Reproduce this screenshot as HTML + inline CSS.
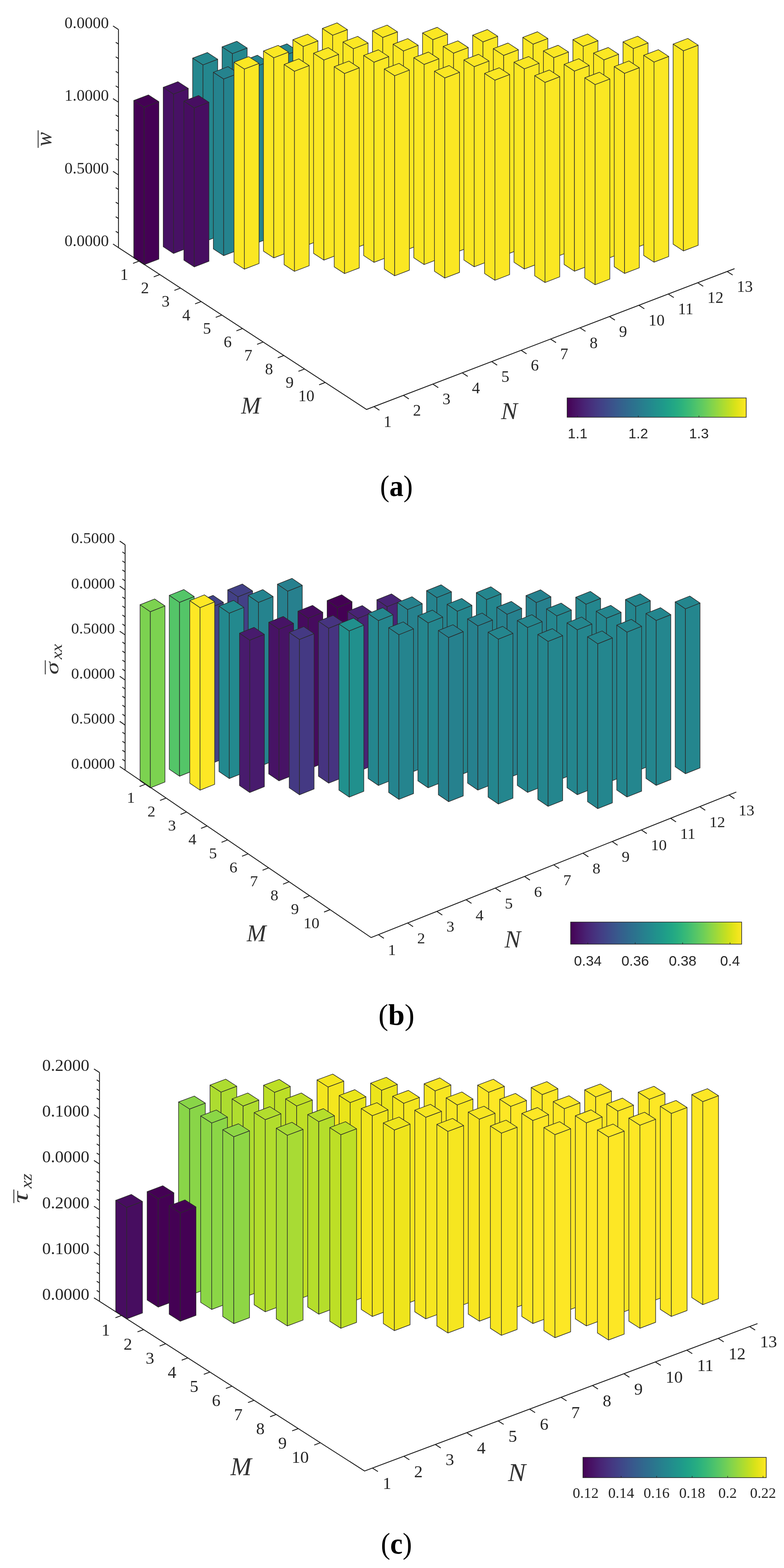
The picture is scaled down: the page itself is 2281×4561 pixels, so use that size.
<!DOCTYPE html>
<html lang="en"><head><meta charset="utf-8"><title>Figure</title>
<style>html,body{margin:0;padding:0;background:#fff}body{width:2281px;height:4561px;overflow:hidden}svg{display:block}</style>
</head><body>
<svg width="2281" height="4561" viewBox="0 0 2281 4561">
<rect width="2281" height="4561" fill="#fff"/>
<defs><linearGradient id="vir" x1="0" x2="1" y1="0" y2="0">
<stop offset="0.0000" stop-color="#440154"/>
<stop offset="0.0312" stop-color="#470d60"/>
<stop offset="0.0625" stop-color="#48186a"/>
<stop offset="0.0938" stop-color="#482374"/>
<stop offset="0.1250" stop-color="#472d7b"/>
<stop offset="0.1562" stop-color="#453781"/>
<stop offset="0.1875" stop-color="#424086"/>
<stop offset="0.2188" stop-color="#3e4989"/>
<stop offset="0.2500" stop-color="#3b528b"/>
<stop offset="0.2812" stop-color="#375b8d"/>
<stop offset="0.3125" stop-color="#33638d"/>
<stop offset="0.3438" stop-color="#2f6b8e"/>
<stop offset="0.3750" stop-color="#2c728e"/>
<stop offset="0.4062" stop-color="#297a8e"/>
<stop offset="0.4375" stop-color="#26828e"/>
<stop offset="0.4688" stop-color="#23898e"/>
<stop offset="0.5000" stop-color="#21918c"/>
<stop offset="0.5312" stop-color="#1f988b"/>
<stop offset="0.5625" stop-color="#1fa088"/>
<stop offset="0.5938" stop-color="#22a785"/>
<stop offset="0.6250" stop-color="#28ae80"/>
<stop offset="0.6562" stop-color="#32b67a"/>
<stop offset="0.6875" stop-color="#3fbc73"/>
<stop offset="0.7188" stop-color="#4ec36b"/>
<stop offset="0.7500" stop-color="#5ec962"/>
<stop offset="0.7812" stop-color="#70cf57"/>
<stop offset="0.8125" stop-color="#84d44b"/>
<stop offset="0.8438" stop-color="#98d83e"/>
<stop offset="0.8750" stop-color="#addc30"/>
<stop offset="0.9062" stop-color="#c2df23"/>
<stop offset="0.9375" stop-color="#d8e219"/>
<stop offset="0.9688" stop-color="#ece51b"/>
<stop offset="1.0000" stop-color="#fde725"/>
</linearGradient></defs>
<g id="chart-a">
<g class="bars" stroke="#2b2b2b" stroke-width="1.7" stroke-linejoin="round">
<g fill="#24878e"><polygon points="646.2,652 676.2,671.7 676.2,156 646.2,136.4"/><polygon points="676.2,671.7 719.1,655.3 719.1,139.6 676.2,156"/><polygon points="646.2,136.4 676.2,156 719.1,139.6 689,120"/></g>
<g fill="#25858e"><polygon points="792,658.5 822,678.1 822,163.5 792,143.9"/><polygon points="822,678.1 864.9,661.7 864.9,147.2 822,163.5"/><polygon points="792,143.9 822,163.5 864.9,147.2 834.8,127.5"/></g>
<g fill="#fbe723"><polygon points="937.8,665 967.8,684.6 967.8,102.5 937.8,82.9"/><polygon points="967.8,684.6 1010.7,668.2 1010.7,86.1 967.8,102.5"/><polygon points="937.8,82.9 967.8,102.5 1010.7,86.1 980.6,66.5"/></g>
<g fill="#fbe723"><polygon points="1083.6,671.5 1113.6,691.1 1113.6,108.9 1083.6,89.3"/><polygon points="1113.6,691.1 1156.5,674.7 1156.5,92.6 1113.6,108.9"/><polygon points="1083.6,89.3 1113.6,108.9 1156.5,92.6 1126.4,73"/></g>
<g fill="#fbe723"><polygon points="1229.4,677.9 1259.4,697.5 1259.4,115.4 1229.4,95.8"/><polygon points="1259.4,697.5 1302.3,681.2 1302.3,99 1259.4,115.4"/><polygon points="1229.4,95.8 1259.4,115.4 1302.3,99 1272.2,79.4"/></g>
<g fill="#fbe723"><polygon points="1375.2,684.4 1405.2,704 1405.2,121.9 1375.2,102.3"/><polygon points="1405.2,704 1448.1,687.6 1448.1,105.5 1405.2,121.9"/><polygon points="1375.2,102.3 1405.2,121.9 1448.1,105.5 1418,85.9"/></g>
<g fill="#fbe723"><polygon points="1521,690.9 1551,710.5 1551,128.4 1521,108.7"/><polygon points="1551,710.5 1593.9,694.1 1593.9,112 1551,128.4"/><polygon points="1521,108.7 1551,128.4 1593.9,112 1563.8,92.4"/></g>
<g fill="#fbe723"><polygon points="1666.8,697.3 1696.8,716.9 1696.8,134.8 1666.8,115.2"/><polygon points="1696.8,716.9 1739.7,700.6 1739.7,118.4 1696.8,134.8"/><polygon points="1666.8,115.2 1696.8,134.8 1739.7,118.4 1709.6,98.8"/></g>
<g fill="#fbe723"><polygon points="1812.6,703.8 1842.6,723.4 1842.6,141.3 1812.6,121.7"/><polygon points="1842.6,723.4 1885.5,707 1885.5,124.9 1842.6,141.3"/><polygon points="1812.6,121.7 1842.6,141.3 1885.5,124.9 1855.4,105.3"/></g>
<g fill="#fbe723"><polygon points="1958.4,710.3 1988.4,729.9 1988.4,147.8 1958.4,128.2"/><polygon points="1988.4,729.9 2031.3,713.5 2031.3,131.4 1988.4,147.8"/><polygon points="1958.4,128.2 1988.4,147.8 2031.3,131.4 2001.2,111.8"/></g>
<g fill="#24878e"><polygon points="560.5,684.8 590.6,704.4 590.6,188.7 560.5,169.1"/><polygon points="590.6,704.4 633.4,688 633.4,172.4 590.6,188.7"/><polygon points="560.5,169.1 590.6,188.7 633.4,172.4 603.3,152.7"/></g>
<g fill="#25848e"><polygon points="706.3,691.3 736.4,710.9 736.4,196.6 706.3,177"/><polygon points="736.4,710.9 779.2,694.5 779.2,180.3 736.4,196.6"/><polygon points="706.3,177 736.4,196.6 779.2,180.3 749.1,160.6"/></g>
<g fill="#fbe723"><polygon points="852.1,697.7 882.2,717.4 882.2,135.2 852.1,115.6"/><polygon points="882.2,717.4 925,701 925,118.9 882.2,135.2"/><polygon points="852.1,115.6 882.2,135.2 925,118.9 894.9,99.2"/></g>
<g fill="#fbe723"><polygon points="997.9,704.2 1028,723.8 1028,141.7 997.9,122.1"/><polygon points="1028,723.8 1070.8,707.4 1070.8,125.3 1028,141.7"/><polygon points="997.9,122.1 1028,141.7 1070.8,125.3 1040.7,105.7"/></g>
<g fill="#fbe723"><polygon points="1143.7,710.7 1173.8,730.3 1173.8,148.2 1143.7,128.6"/><polygon points="1173.8,730.3 1216.6,713.9 1216.6,131.8 1173.8,148.2"/><polygon points="1143.7,128.6 1173.8,148.2 1216.6,131.8 1186.5,112.2"/></g>
<g fill="#fbe723"><polygon points="1289.5,717.2 1319.6,736.8 1319.6,154.6 1289.5,135"/><polygon points="1319.6,736.8 1362.4,720.4 1362.4,138.3 1319.6,154.6"/><polygon points="1289.5,135 1319.6,154.6 1362.4,138.3 1332.3,118.7"/></g>
<g fill="#fbe723"><polygon points="1435.3,723.6 1465.4,743.2 1465.4,161.1 1435.3,141.5"/><polygon points="1465.4,743.2 1508.2,726.9 1508.2,144.7 1465.4,161.1"/><polygon points="1435.3,141.5 1465.4,161.1 1508.2,144.7 1478.1,125.1"/></g>
<g fill="#fbe723"><polygon points="1581.1,730.1 1611.2,749.7 1611.2,167.6 1581.1,148"/><polygon points="1611.2,749.7 1654,733.3 1654,151.2 1611.2,167.6"/><polygon points="1581.1,148 1611.2,167.6 1654,151.2 1623.9,131.6"/></g>
<g fill="#fbe723"><polygon points="1726.9,736.6 1757,756.2 1757,174.1 1726.9,154.4"/><polygon points="1757,756.2 1799.8,739.8 1799.8,157.7 1757,174.1"/><polygon points="1726.9,154.4 1757,174.1 1799.8,157.7 1769.7,138.1"/></g>
<g fill="#fbe723"><polygon points="1872.7,743 1902.8,762.6 1902.8,180.5 1872.7,160.9"/><polygon points="1902.8,762.6 1945.6,746.3 1945.6,164.1 1902.8,180.5"/><polygon points="1872.7,160.9 1902.8,180.5 1945.6,164.1 1915.5,144.5"/></g>
<g fill="#471164"><polygon points="474.9,717.6 504.9,737.2 504.9,273.6 474.9,254"/><polygon points="504.9,737.2 547.8,720.8 547.8,257.2 504.9,273.6"/><polygon points="474.9,254 504.9,273.6 547.8,257.2 517.7,237.6"/></g>
<g fill="#25838e"><polygon points="620.7,724 650.7,743.6 650.7,229.8 620.7,210.2"/><polygon points="650.7,743.6 693.6,727.3 693.6,213.4 650.7,229.8"/><polygon points="620.7,210.2 650.7,229.8 693.6,213.4 663.5,193.8"/></g>
<g fill="#fbe723"><polygon points="766.5,730.5 796.5,750.1 796.5,168 766.5,148.4"/><polygon points="796.5,750.1 839.4,733.7 839.4,151.6 796.5,168"/><polygon points="766.5,148.4 796.5,168 839.4,151.6 809.3,132"/></g>
<g fill="#fbe723"><polygon points="912.3,737 942.3,756.6 942.3,174.5 912.3,154.9"/><polygon points="942.3,756.6 985.2,740.2 985.2,158.1 942.3,174.5"/><polygon points="912.3,154.9 942.3,174.5 985.2,158.1 955.1,138.5"/></g>
<g fill="#fbe723"><polygon points="1058.1,743.4 1088.1,763.1 1088.1,180.9 1058.1,161.3"/><polygon points="1088.1,763.1 1131,746.7 1131,164.6 1088.1,180.9"/><polygon points="1058.1,161.3 1088.1,180.9 1131,164.6 1100.9,144.9"/></g>
<g fill="#fbe723"><polygon points="1203.9,749.9 1233.9,769.5 1233.9,187.4 1203.9,167.8"/><polygon points="1233.9,769.5 1276.8,753.1 1276.8,171 1233.9,187.4"/><polygon points="1203.9,167.8 1233.9,187.4 1276.8,171 1246.7,151.4"/></g>
<g fill="#fbe723"><polygon points="1349.7,756.4 1379.7,776 1379.7,193.9 1349.7,174.3"/><polygon points="1379.7,776 1422.6,759.6 1422.6,177.5 1379.7,193.9"/><polygon points="1349.7,174.3 1379.7,193.9 1422.6,177.5 1392.5,157.9"/></g>
<g fill="#fbe723"><polygon points="1495.5,762.9 1525.5,782.5 1525.5,200.3 1495.5,180.7"/><polygon points="1525.5,782.5 1568.4,766.1 1568.4,184 1525.5,200.3"/><polygon points="1495.5,180.7 1525.5,200.3 1568.4,184 1538.3,164.4"/></g>
<g fill="#fbe723"><polygon points="1641.3,769.3 1671.3,788.9 1671.3,206.8 1641.3,187.2"/><polygon points="1671.3,788.9 1714.2,772.6 1714.2,190.4 1671.3,206.8"/><polygon points="1641.3,187.2 1671.3,206.8 1714.2,190.4 1684.1,170.8"/></g>
<g fill="#fbe723"><polygon points="1787.1,775.8 1817.1,795.4 1817.1,213.3 1787.1,193.7"/><polygon points="1817.1,795.4 1860,779 1860,196.9 1817.1,213.3"/><polygon points="1787.1,193.7 1817.1,213.3 1860,196.9 1829.9,177.3"/></g>
<g fill="#440154"><polygon points="389.2,750.3 419.3,769.9 419.3,312.1 389.2,292.4"/><polygon points="419.3,769.9 462.1,753.6 462.1,295.7 419.3,312.1"/><polygon points="389.2,292.4 419.3,312.1 462.1,295.7 432,276.1"/></g>
<g fill="#470e61"><polygon points="535,756.8 565.1,776.4 565.1,313.8 535,294.1"/><polygon points="565.1,776.4 607.9,760 607.9,297.4 565.1,313.8"/><polygon points="535,294.1 565.1,313.8 607.9,297.4 577.8,277.8"/></g>
<g fill="#fbe723"><polygon points="680.8,763.3 710.9,782.9 710.9,200.8 680.8,181.1"/><polygon points="710.9,782.9 753.7,766.5 753.7,184.4 710.9,200.8"/><polygon points="680.8,181.1 710.9,200.8 753.7,184.4 723.6,164.8"/></g>
<g fill="#fbe723"><polygon points="826.6,769.7 856.7,789.3 856.7,207.2 826.6,187.6"/><polygon points="856.7,789.3 899.5,773 899.5,190.8 856.7,207.2"/><polygon points="826.6,187.6 856.7,207.2 899.5,190.8 869.4,171.2"/></g>
<g fill="#fbe723"><polygon points="972.4,776.2 1002.5,795.8 1002.5,213.7 972.4,194.1"/><polygon points="1002.5,795.8 1045.3,779.4 1045.3,197.3 1002.5,213.7"/><polygon points="972.4,194.1 1002.5,213.7 1045.3,197.3 1015.2,177.7"/></g>
<g fill="#fbe723"><polygon points="1118.2,782.7 1148.3,802.3 1148.3,220.2 1118.2,200.6"/><polygon points="1148.3,802.3 1191.1,785.9 1191.1,203.8 1148.3,220.2"/><polygon points="1118.2,200.6 1148.3,220.2 1191.1,203.8 1161,184.2"/></g>
<g fill="#fbe723"><polygon points="1264,789.1 1294.1,808.8 1294.1,226.6 1264,207"/><polygon points="1294.1,808.8 1336.9,792.4 1336.9,210.3 1294.1,226.6"/><polygon points="1264,207 1294.1,226.6 1336.9,210.3 1306.8,190.6"/></g>
<g fill="#fbe723"><polygon points="1409.8,795.6 1439.9,815.2 1439.9,233.1 1409.8,213.5"/><polygon points="1439.9,815.2 1482.7,798.8 1482.7,216.7 1439.9,233.1"/><polygon points="1409.8,213.5 1439.9,233.1 1482.7,216.7 1452.6,197.1"/></g>
<g fill="#fbe723"><polygon points="1555.6,802.1 1585.7,821.7 1585.7,239.6 1555.6,220"/><polygon points="1585.7,821.7 1628.5,805.3 1628.5,223.2 1585.7,239.6"/><polygon points="1555.6,220 1585.7,239.6 1628.5,223.2 1598.4,203.6"/></g>
<g fill="#fbe723"><polygon points="1701.4,808.6 1731.5,828.2 1731.5,246 1701.4,226.4"/><polygon points="1731.5,828.2 1774.3,811.8 1774.3,229.7 1731.5,246"/><polygon points="1701.4,226.4 1731.5,246 1774.3,229.7 1744.2,210.1"/></g>
</g>
<g stroke="#1c1c1c" stroke-width="2.5" fill="none" stroke-linecap="butt">
<polyline points="344.7,85.9 344.7,720.2 1066.5,1191 2137.1,781.5"/>
<path d="M344.7 720.2L328.8 709.8M344.7 677.9L336.7 672.7M344.7 635.6L336.7 630.4M344.7 593.3L336.7 588.1M344.7 551L336.7 545.9M344.7 508.8L328.8 498.4M344.7 466.5L336.7 461.3M344.7 424.2L336.7 419M344.7 381.9L336.7 376.7M344.7 339.6L336.7 334.4M344.7 297.3L328.8 286.9M344.7 255L336.7 249.8M344.7 212.7L336.7 207.5M344.7 170.4L336.7 165.2M344.7 128.1L336.7 123M344.7 85.9L328.8 75.5M404.8 759.4L387.1 766.2M465 798.7L447.3 805.4M525.1 837.9L507.4 844.7M585.3 877.1L567.6 883.9M645.5 916.4L627.7 923.1M705.6 955.6L687.9 962.4M765.8 994.8L748 1001.6M825.9 1034L808.2 1040.8M886 1073.3L868.3 1080.1M946.2 1112.5L928.5 1119.3M1087.9 1182.8L1103.8 1193.1M1173.6 1150L1189.5 1160.4M1259.2 1117.2L1275.1 1127.6M1344.9 1084.5L1360.8 1094.9M1430.5 1051.7L1446.4 1062.1M1516.2 1019L1532.1 1029.3M1601.8 986.2L1617.7 996.6M1687.5 953.5L1703.4 963.8M1773.1 920.7L1789 931.1M1858.8 887.9L1874.7 898.3M1944.4 855.2L1960.3 865.5M2030.1 822.4L2046 832.8M2115.7 789.7L2131.6 800"/>
</g>
<g font-family="'Liberation Serif', serif" font-size="45.5" fill="#262626">
<text transform="translate(316.7,716) scale(1.03,1)" text-anchor="end">0.0000</text>
<text transform="translate(316.7,504.6) scale(1.03,1)" text-anchor="end">0.5000</text>
<text transform="translate(316.7,293.1) scale(1.03,1)" text-anchor="end">1.0000</text>
<text transform="translate(316.7,81.7) scale(1.03,1)" text-anchor="end">0.0000</text>
<text transform="translate(373.3,813.9) scale(1.03,1)" text-anchor="end">1</text>
<text transform="translate(433.5,853.2) scale(1.03,1)" text-anchor="end">2</text>
<text transform="translate(493.6,892.4) scale(1.03,1)" text-anchor="end">3</text>
<text transform="translate(553.8,931.6) scale(1.03,1)" text-anchor="end">4</text>
<text transform="translate(614,970.9) scale(1.03,1)" text-anchor="end">5</text>
<text transform="translate(674.1,1010.1) scale(1.03,1)" text-anchor="end">6</text>
<text transform="translate(734.2,1049.3) scale(1.03,1)" text-anchor="end">7</text>
<text transform="translate(794.4,1088.5) scale(1.03,1)" text-anchor="end">8</text>
<text transform="translate(854.5,1127.8) scale(1.03,1)" text-anchor="end">9</text>
<text transform="translate(914.7,1167) scale(1.03,1)" text-anchor="end">10</text>
<text transform="translate(1115.9,1241.8) scale(1.03,1)">1</text>
<text transform="translate(1201.6,1209) scale(1.03,1)">2</text>
<text transform="translate(1287.2,1176.2) scale(1.03,1)">3</text>
<text transform="translate(1372.9,1143.5) scale(1.03,1)">4</text>
<text transform="translate(1458.5,1110.7) scale(1.03,1)">5</text>
<text transform="translate(1544.2,1078) scale(1.03,1)">6</text>
<text transform="translate(1629.8,1045.2) scale(1.03,1)">7</text>
<text transform="translate(1715.5,1012.5) scale(1.03,1)">8</text>
<text transform="translate(1801.1,979.7) scale(1.03,1)">9</text>
<text transform="translate(1886.8,946.9) scale(1.03,1)">10</text>
<text transform="translate(1972.4,914.2) scale(1.03,1)">11</text>
<text transform="translate(2058.1,881.4) scale(1.03,1)">12</text>
<text transform="translate(2143.7,848.7) scale(1.03,1)">13</text>
</g>
<text transform="translate(701.58,1202.7) scale(0.6809,0.6938)" font-family="'Liberation Serif', serif" font-size="100" fill="#333333" font-style="italic">M</text>
<text transform="translate(1457.86,1218.6) scale(0.7161,0.6877)" font-family="'Liberation Serif', serif" font-size="100" fill="#333333" font-style="italic">N</text>
<rect x="1650" y="1157.5" width="521.1" height="56.2" fill="url(#vir)" stroke="#262626" stroke-width="1.8"/>
<g font-family="'Liberation Sans', sans-serif" font-size="41.3" fill="#262626" text-anchor="middle">
<text x="1680.4" y="1274.5">1.1</text>
<text x="1857" y="1274.5">1.2</text>
<text x="2033.5" y="1274.5">1.3</text>
</g>
<path d="M1680.4 1213.7V1208.7M1857 1213.7V1208.7M2033.5 1213.7V1208.7" stroke="#262626" stroke-width="1.5" fill="none"/>
<text transform="translate(1105.83,1442.6) scale(0.942,1)" font-family="'Liberation Serif', serif" font-size="86.7" fill="#000">(<tspan font-weight="bold">a</tspan>)</text>
</g>
<g id="chart-b">
<g class="bars" stroke="#2b2b2b" stroke-width="1.7" stroke-linejoin="round">
<g fill="#424086"><polygon points="662.5,2169.9 692.4,2190.1 692.4,1735.9 662.5,1715.7"/><polygon points="692.4,2190.1 734.9,2173.2 734.9,1719 692.4,1735.9"/><polygon points="662.5,1715.7 692.4,1735.9 734.9,1719 705,1698.7"/></g>
<g fill="#27808e"><polygon points="807.2,2176.6 837,2196.9 837,1719.6 807.2,1699.3"/><polygon points="837,2196.9 879.5,2179.9 879.5,1702.7 837,1719.6"/><polygon points="807.2,1699.3 837,1719.6 879.5,1702.7 849.7,1682.4"/></g>
<g fill="#440154"><polygon points="951.8,2183.3 981.7,2203.6 981.7,1767.3 951.8,1747.1"/><polygon points="981.7,2203.6 1024.2,2186.7 1024.2,1750.4 981.7,1767.3"/><polygon points="951.8,1747.1 981.7,1767.3 1024.2,1750.4 994.3,1730.1"/></g>
<g fill="#482475"><polygon points="1096.5,2190 1126.3,2210.3 1126.3,1764.8 1096.5,1744.5"/><polygon points="1126.3,2210.3 1168.8,2193.4 1168.8,1747.8 1126.3,1764.8"/><polygon points="1096.5,1744.5 1126.3,1764.8 1168.8,1747.8 1139,1727.5"/></g>
<g fill="#25838e"><polygon points="1241.1,2196.7 1271,2217 1271,1738.3 1241.1,1718"/><polygon points="1271,2217 1313.5,2200.1 1313.5,1721.4 1271,1738.3"/><polygon points="1241.1,1718 1271,1738.3 1313.5,1721.4 1283.6,1701.1"/></g>
<g fill="#24868e"><polygon points="1385.8,2203.5 1415.6,2223.7 1415.6,1744.1 1385.8,1723.8"/><polygon points="1415.6,2223.7 1458.1,2206.8 1458.1,1727.2 1415.6,1744.1"/><polygon points="1385.8,1723.8 1415.6,1744.1 1458.1,1727.2 1428.3,1706.9"/></g>
<g fill="#26818e"><polygon points="1530.4,2210.2 1560.3,2230.5 1560.3,1752.8 1530.4,1732.5"/><polygon points="1560.3,2230.5 1602.8,2213.5 1602.8,1735.9 1560.3,1752.8"/><polygon points="1530.4,1732.5 1560.3,1752.8 1602.8,1735.9 1572.9,1715.6"/></g>
<g fill="#24868e"><polygon points="1675.1,2216.9 1704.9,2237.2 1704.9,1757.5 1675.1,1737.3"/><polygon points="1704.9,2237.2 1747.4,2220.3 1747.4,1740.6 1704.9,1757.5"/><polygon points="1675.1,1737.3 1704.9,1757.5 1747.4,1740.6 1717.6,1720.3"/></g>
<g fill="#24868e"><polygon points="1819.7,2223.6 1849.6,2243.9 1849.6,1764.3 1819.7,1744"/><polygon points="1849.6,2243.9 1892.1,2227 1892.1,1747.3 1849.6,1764.3"/><polygon points="1819.7,1744 1849.6,1764.3 1892.1,1747.3 1862.2,1727"/></g>
<g fill="#24868e"><polygon points="1964.4,2230.3 1994.2,2250.6 1994.2,1771 1964.4,1750.7"/><polygon points="1994.2,2250.6 2036.7,2233.7 2036.7,1754.1 1994.2,1771"/><polygon points="1964.4,1750.7 1994.2,1771 2036.7,1754.1 2006.9,1733.8"/></g>
<g fill="#414287"><polygon points="577.5,2203.7 607.4,2224 607.4,1769.1 577.5,1748.9"/><polygon points="607.4,2224 649.9,2207.1 649.9,1752.2 607.4,1769.1"/><polygon points="577.5,1748.9 607.4,1769.1 649.9,1752.2 620,1731.9"/></g>
<g fill="#25838e"><polygon points="722.2,2210.4 752,2230.7 752,1752.3 722.2,1732"/><polygon points="752,2230.7 794.5,2213.8 794.5,1735.3 752,1752.3"/><polygon points="722.2,1732 752,1752.3 794.5,1735.3 764.7,1715"/></g>
<g fill="#460b5e"><polygon points="866.8,2217.2 896.7,2237.4 896.7,1798.2 866.8,1777.9"/><polygon points="896.7,2237.4 939.2,2220.5 939.2,1781.3 896.7,1798.2"/><polygon points="866.8,1777.9 896.7,1798.2 939.2,1781.3 909.3,1761"/></g>
<g fill="#482374"><polygon points="1011.5,2223.9 1041.3,2244.2 1041.3,1798.8 1011.5,1778.5"/><polygon points="1041.3,2244.2 1083.8,2227.2 1083.8,1781.8 1041.3,1798.8"/><polygon points="1011.5,1778.5 1041.3,1798.8 1083.8,1781.8 1054,1761.5"/></g>
<g fill="#26828e"><polygon points="1156.1,2230.6 1186,2250.9 1186,1773 1156.1,1752.7"/><polygon points="1186,2250.9 1228.5,2234 1228.5,1756 1186,1773"/><polygon points="1156.1,1752.7 1186,1773 1228.5,1756 1198.6,1735.7"/></g>
<g fill="#24868e"><polygon points="1300.8,2237.3 1330.6,2257.6 1330.6,1778 1300.8,1757.7"/><polygon points="1330.6,2257.6 1373.1,2240.7 1373.1,1761 1330.6,1778"/><polygon points="1300.8,1757.7 1330.6,1778 1373.1,1761 1343.3,1740.7"/></g>
<g fill="#26818e"><polygon points="1445.4,2244 1475.3,2264.3 1475.3,1786.7 1445.4,1766.4"/><polygon points="1475.3,2264.3 1517.8,2247.4 1517.8,1769.7 1475.3,1786.7"/><polygon points="1445.4,1766.4 1475.3,1786.7 1517.8,1769.7 1487.9,1749.4"/></g>
<g fill="#24868e"><polygon points="1590.1,2250.8 1619.9,2271 1619.9,1791.4 1590.1,1771.1"/><polygon points="1619.9,2271 1662.4,2254.1 1662.4,1774.5 1619.9,1791.4"/><polygon points="1590.1,1771.1 1619.9,1791.4 1662.4,1774.5 1632.6,1754.2"/></g>
<g fill="#24868e"><polygon points="1734.7,2257.5 1764.6,2277.8 1764.6,1798.1 1734.7,1777.8"/><polygon points="1764.6,2277.8 1807.1,2260.8 1807.1,1781.2 1764.6,1798.1"/><polygon points="1734.7,1777.8 1764.6,1798.1 1807.1,1781.2 1777.2,1760.9"/></g>
<g fill="#24868e"><polygon points="1879.4,2264.2 1909.2,2284.5 1909.2,1804.8 1879.4,1784.6"/><polygon points="1909.2,2284.5 1951.7,2267.6 1951.7,1787.9 1909.2,1804.8"/><polygon points="1879.4,1784.6 1909.2,1804.8 1951.7,1787.9 1921.9,1767.6"/></g>
<g fill="#54c568"><polygon points="492.5,2237.6 522.4,2257.9 522.4,1752.1 492.5,1731.8"/><polygon points="522.4,2257.9 564.9,2240.9 564.9,1735.2 522.4,1752.1"/><polygon points="492.5,1731.8 522.4,1752.1 564.9,1735.2 535,1714.9"/></g>
<g fill="#23898e"><polygon points="637.2,2244.3 667,2264.6 667,1783.6 637.2,1763.3"/><polygon points="667,2264.6 709.5,2247.7 709.5,1766.7 667,1783.6"/><polygon points="637.2,1763.3 667,1783.6 709.5,1766.7 679.7,1746.4"/></g>
<g fill="#471365"><polygon points="781.8,2251 811.7,2271.3 811.7,1830.3 781.8,1810.1"/><polygon points="811.7,2271.3 854.2,2254.4 854.2,1813.4 811.7,1830.3"/><polygon points="781.8,1810.1 811.7,1830.3 854.2,1813.4 824.3,1793.1"/></g>
<g fill="#463480"><polygon points="926.5,2257.7 956.3,2278 956.3,1827.4 926.5,1807.1"/><polygon points="956.3,2278 998.8,2261.1 998.8,1810.4 956.3,1827.4"/><polygon points="926.5,1807.1 956.3,1827.4 998.8,1810.4 969,1790.1"/></g>
<g fill="#24868e"><polygon points="1071.1,2264.5 1101,2284.7 1101,1805.1 1071.1,1784.8"/><polygon points="1101,2284.7 1143.5,2267.8 1143.5,1788.2 1101,1805.1"/><polygon points="1071.1,1784.8 1101,1805.1 1143.5,1788.2 1113.6,1767.9"/></g>
<g fill="#24868e"><polygon points="1215.8,2271.2 1245.6,2291.5 1245.6,1811.8 1215.8,1791.5"/><polygon points="1245.6,2291.5 1288.1,2274.5 1288.1,1794.9 1245.6,1811.8"/><polygon points="1215.8,1791.5 1245.6,1811.8 1288.1,1794.9 1258.3,1774.6"/></g>
<g fill="#26818e"><polygon points="1360.4,2277.9 1390.3,2298.2 1390.3,1820.5 1360.4,1800.2"/><polygon points="1390.3,2298.2 1432.8,2281.3 1432.8,1803.6 1390.3,1820.5"/><polygon points="1360.4,1800.2 1390.3,1820.5 1432.8,1803.6 1402.9,1783.3"/></g>
<g fill="#24868e"><polygon points="1505.1,2284.6 1534.9,2304.9 1534.9,1825.3 1505.1,1805"/><polygon points="1534.9,2304.9 1577.4,2288 1577.4,1808.3 1534.9,1825.3"/><polygon points="1505.1,1805 1534.9,1825.3 1577.4,1808.3 1547.6,1788"/></g>
<g fill="#24868e"><polygon points="1649.7,2291.3 1679.6,2311.6 1679.6,1832 1649.7,1811.7"/><polygon points="1679.6,2311.6 1722.1,2294.7 1722.1,1815.1 1679.6,1832"/><polygon points="1649.7,1811.7 1679.6,1832 1722.1,1815.1 1692.2,1794.8"/></g>
<g fill="#24868e"><polygon points="1794.4,2298.1 1824.2,2318.3 1824.2,1838.7 1794.4,1818.4"/><polygon points="1824.2,2318.3 1866.7,2301.4 1866.7,1821.8 1824.2,1838.7"/><polygon points="1794.4,1818.4 1824.2,1838.7 1866.7,1821.8 1836.9,1801.5"/></g>
<g fill="#7cd250"><polygon points="407.5,2271.4 437.4,2291.7 437.4,1779.4 407.5,1759.1"/><polygon points="437.4,2291.7 479.9,2274.8 479.9,1762.5 437.4,1779.4"/><polygon points="407.5,1759.1 437.4,1779.4 479.9,1762.5 450,1742.2"/></g>
<g fill="#fde725"><polygon points="552.2,2278.2 582,2298.4 582,1767.5 552.2,1747.3"/><polygon points="582,2298.4 624.5,2281.5 624.5,1750.6 582,1767.5"/><polygon points="552.2,1747.3 582,1767.5 624.5,1750.6 594.7,1730.3"/></g>
<g fill="#481b6d"><polygon points="696.8,2284.9 726.7,2305.2 726.7,1862.1 696.8,1841.8"/><polygon points="726.7,2305.2 769.2,2288.2 769.2,1845.2 726.7,1862.1"/><polygon points="696.8,1841.8 726.7,1862.1 769.2,1845.2 739.3,1824.9"/></g>
<g fill="#443983"><polygon points="841.5,2291.6 871.3,2311.9 871.3,1860 841.5,1839.8"/><polygon points="871.3,2311.9 913.8,2295 913.8,1843.1 871.3,1860"/><polygon points="841.5,1839.8 871.3,1860 913.8,1843.1 884,1822.8"/></g>
<g fill="#21908d"><polygon points="986.1,2298.3 1016,2318.6 1016,1835.2 986.1,1814.9"/><polygon points="1016,2318.6 1058.5,2301.7 1058.5,1818.2 1016,1835.2"/><polygon points="986.1,1814.9 1016,1835.2 1058.5,1818.2 1028.6,1797.9"/></g>
<g fill="#25848e"><polygon points="1130.8,2305 1160.6,2325.3 1160.6,1846.2 1130.8,1825.9"/><polygon points="1160.6,2325.3 1203.1,2308.4 1203.1,1829.3 1160.6,1846.2"/><polygon points="1130.8,1825.9 1160.6,1846.2 1203.1,1829.3 1173.3,1809"/></g>
<g fill="#26818e"><polygon points="1275.4,2311.8 1305.3,2332 1305.3,1854.4 1275.4,1834.1"/><polygon points="1305.3,2332 1347.8,2315.1 1347.8,1837.4 1305.3,1854.4"/><polygon points="1275.4,1834.1 1305.3,1854.4 1347.8,1837.4 1317.9,1817.2"/></g>
<g fill="#24868e"><polygon points="1420.1,2318.5 1449.9,2338.8 1449.9,1859.1 1420.1,1838.8"/><polygon points="1449.9,2338.8 1492.4,2321.8 1492.4,1842.2 1449.9,1859.1"/><polygon points="1420.1,1838.8 1449.9,1859.1 1492.4,1842.2 1462.6,1821.9"/></g>
<g fill="#24868e"><polygon points="1564.7,2325.2 1594.6,2345.5 1594.6,1865.8 1564.7,1845.6"/><polygon points="1594.6,2345.5 1637.1,2328.6 1637.1,1848.9 1594.6,1865.8"/><polygon points="1564.7,1845.6 1594.6,1865.8 1637.1,1848.9 1607.2,1828.6"/></g>
<g fill="#24868e"><polygon points="1709.4,2331.9 1739.2,2352.2 1739.2,1872.6 1709.4,1852.3"/><polygon points="1739.2,2352.2 1781.7,2335.3 1781.7,1855.6 1739.2,1872.6"/><polygon points="1709.4,1852.3 1739.2,1872.6 1781.7,1855.6 1751.9,1835.3"/></g>
</g>
<g stroke="#1c1c1c" stroke-width="2.5" fill="none" stroke-linecap="butt">
<polyline points="364,1584.6 364,2240.2 1079.8,2727.2 2142.3,2303.9"/>
<path d="M364 2240.2L348.3 2229.5M364 2214L356.1 2208.6M364 2187.8L356.1 2182.4M364 2161.5L356.1 2156.2M364 2135.3L356.1 2130M364 2109.1L348.3 2098.4M364 2082.9L356.1 2077.5M364 2056.6L356.1 2051.3M364 2030.4L356.1 2025.1M364 2004.2L356.1 1998.8M364 1978L348.3 1967.3M364 1951.7L356.1 1946.4M364 1925.5L356.1 1920.2M364 1899.3L356.1 1893.9M364 1873.1L356.1 1867.7M364 1846.8L348.3 1836.2M364 1820.6L356.1 1815.3M364 1794.4L356.1 1789M364 1768.2L356.1 1762.8M364 1741.9L356.1 1736.6M364 1715.7L348.3 1705M364 1689.5L356.1 1684.2M364 1663.3L356.1 1657.9M364 1637L356.1 1631.7M364 1610.8L356.1 1605.5M364 1584.6L348.3 1573.9M423.6 2280.8L406 2287.8M483.3 2321.4L465.6 2328.4M543 2361.9L525.3 2369M602.6 2402.5L584.9 2409.6M662.2 2443.1L644.6 2450.1M721.9 2483.7L704.2 2490.7M781.5 2524.3L763.9 2531.3M841.2 2564.8L823.5 2571.9M900.9 2605.4L883.2 2612.5M960.5 2646L942.8 2653M1101 2718.7L1116.8 2729.4M1186 2684.8L1201.8 2695.5M1271 2651L1286.8 2661.7M1356 2617.1L1371.8 2627.8M1441 2583.3L1456.8 2593.9M1526 2549.4L1541.8 2560.1M1611 2515.5L1626.8 2526.2M1696 2481.7L1711.8 2492.4M1781 2447.8L1796.8 2458.5M1866 2414L1881.8 2424.6M1951 2380.1L1966.8 2390.8M2036 2346.2L2051.8 2356.9M2121.1 2312.4L2136.8 2323.1"/>
</g>
<g font-family="'Liberation Serif', serif" font-size="45" fill="#262626">
<text transform="translate(334.5,2236) scale(1.03,1)" text-anchor="end">0.0000</text>
<text transform="translate(334.5,2104.9) scale(1.03,1)" text-anchor="end">0.5000</text>
<text transform="translate(334.5,1973.8) scale(1.03,1)" text-anchor="end">0.0000</text>
<text transform="translate(334.5,1842.7) scale(1.03,1)" text-anchor="end">0.5000</text>
<text transform="translate(334.5,1711.6) scale(1.03,1)" text-anchor="end">0.0000</text>
<text transform="translate(334.5,1580.4) scale(1.03,1)" text-anchor="end">0.5000</text>
<text transform="translate(392.5,2334.7) scale(1.03,1)" text-anchor="end">1</text>
<text transform="translate(452.1,2375.3) scale(1.03,1)" text-anchor="end">2</text>
<text transform="translate(511.8,2415.8) scale(1.03,1)" text-anchor="end">3</text>
<text transform="translate(571.4,2456.4) scale(1.03,1)" text-anchor="end">4</text>
<text transform="translate(631.1,2497) scale(1.03,1)" text-anchor="end">5</text>
<text transform="translate(690.7,2537.6) scale(1.03,1)" text-anchor="end">6</text>
<text transform="translate(750.4,2578.2) scale(1.03,1)" text-anchor="end">7</text>
<text transform="translate(810,2618.7) scale(1.03,1)" text-anchor="end">8</text>
<text transform="translate(869.7,2659.3) scale(1.03,1)" text-anchor="end">9</text>
<text transform="translate(929.3,2699.9) scale(1.03,1)" text-anchor="end">10</text>
<text transform="translate(1128.7,2778.1) scale(1.03,1)">1</text>
<text transform="translate(1213.7,2744.2) scale(1.03,1)">2</text>
<text transform="translate(1298.7,2710.4) scale(1.03,1)">3</text>
<text transform="translate(1383.7,2676.5) scale(1.03,1)">4</text>
<text transform="translate(1468.7,2642.7) scale(1.03,1)">5</text>
<text transform="translate(1553.7,2608.8) scale(1.03,1)">6</text>
<text transform="translate(1638.7,2574.9) scale(1.03,1)">7</text>
<text transform="translate(1723.7,2541.1) scale(1.03,1)">8</text>
<text transform="translate(1808.7,2507.2) scale(1.03,1)">9</text>
<text transform="translate(1893.7,2473.4) scale(1.03,1)">10</text>
<text transform="translate(1978.7,2439.5) scale(1.03,1)">11</text>
<text transform="translate(2063.7,2405.6) scale(1.03,1)">12</text>
<text transform="translate(2148.7,2371.8) scale(1.03,1)">13</text>
</g>
<text transform="translate(718.08,2738.2) scale(0.6764,0.7077)" font-family="'Liberation Serif', serif" font-size="100" fill="#333333" font-style="italic">M</text>
<text transform="translate(1468.05,2755.7) scale(0.7035,0.7169)" font-family="'Liberation Serif', serif" font-size="100" fill="#333333" font-style="italic">N</text>
<rect x="1660.2" y="2682.1" width="497.6" height="64.3" fill="url(#vir)" stroke="#262626" stroke-width="1.8"/>
<g font-family="'Liberation Sans', sans-serif" font-size="41.3" fill="#262626" text-anchor="middle">
<text x="1710.2" y="2808.5">0.34</text>
<text x="1848.1" y="2808.5">0.36</text>
<text x="1986.1" y="2808.5">0.38</text>
<text x="2124" y="2808.5">0.4</text>
</g>
<path d="M1710.2 2746.4V2741.4M1848.1 2746.4V2741.4M1986.1 2746.4V2741.4M2124 2746.4V2741.4" stroke="#262626" stroke-width="1.5" fill="none"/>
<text transform="translate(1100.93,2980.7) scale(0.991,1)" font-family="'Liberation Serif', serif" font-size="86.7" fill="#000">(<tspan font-weight="bold">b</tspan>)</text>
</g>
<g id="chart-c">
<g class="bars" stroke="#2b2b2b" stroke-width="1.7" stroke-linejoin="round">
<g fill="#addc30"><polygon points="611,3712.9 643.1,3733.5 643.1,3176.7 611,3156.2"/><polygon points="643.1,3733.5 688.8,3716.4 688.8,3159.6 643.1,3176.7"/><polygon points="611,3156.2 643.1,3176.7 688.8,3159.6 656.7,3139"/></g>
<g fill="#bddf26"><polygon points="766.7,3719.8 798.8,3740.3 798.8,3177.4 766.7,3156.9"/><polygon points="798.8,3740.3 844.6,3723.2 844.6,3160.3 798.8,3177.4"/><polygon points="766.7,3156.9 798.8,3177.4 844.6,3160.3 812.4,3139.7"/></g>
<g fill="#f4e61e"><polygon points="922.4,3726.6 954.6,3747.2 954.6,3161.9 922.4,3141.3"/><polygon points="954.6,3747.2 1000.3,3730 1000.3,3144.7 954.6,3161.9"/><polygon points="922.4,3141.3 954.6,3161.9 1000.3,3144.7 968.2,3124.2"/></g>
<g fill="#ece51b"><polygon points="1078.2,3733.4 1110.3,3754 1110.3,3171.4 1078.2,3150.8"/><polygon points="1110.3,3754 1156,3736.9 1156,3154.2 1110.3,3171.4"/><polygon points="1078.2,3150.8 1110.3,3171.4 1156,3154.2 1123.9,3133.7"/></g>
<g fill="#f8e621"><polygon points="1233.9,3740.3 1266,3760.8 1266,3173.2 1233.9,3152.6"/><polygon points="1266,3760.8 1311.8,3743.7 1311.8,3156 1266,3173.2"/><polygon points="1233.9,3152.6 1266,3173.2 1311.8,3156 1279.6,3135.4"/></g>
<g fill="#fde725"><polygon points="1389.6,3747.1 1421.8,3767.7 1421.8,3177.1 1389.6,3156.5"/><polygon points="1421.8,3767.7 1467.5,3750.5 1467.5,3159.9 1421.8,3177.1"/><polygon points="1389.6,3156.5 1421.8,3177.1 1467.5,3159.9 1435.4,3139.3"/></g>
<g fill="#fde725"><polygon points="1545.4,3753.9 1577.5,3774.5 1577.5,3183.9 1545.4,3163.3"/><polygon points="1577.5,3774.5 1623.2,3757.3 1623.2,3166.7 1577.5,3183.9"/><polygon points="1545.4,3163.3 1577.5,3183.9 1623.2,3166.7 1591.1,3146.2"/></g>
<g fill="#fde725"><polygon points="1701.1,3760.8 1733.2,3781.3 1733.2,3190.7 1701.1,3170.1"/><polygon points="1733.2,3781.3 1779,3764.2 1779,3173.6 1733.2,3190.7"/><polygon points="1701.1,3170.1 1733.2,3190.7 1779,3173.6 1746.8,3153"/></g>
<g fill="#fde725"><polygon points="1856.8,3767.6 1889,3788.2 1889,3197.5 1856.8,3177"/><polygon points="1889,3788.2 1934.7,3771 1934.7,3180.4 1889,3197.5"/><polygon points="1856.8,3177 1889,3197.5 1934.7,3180.4 1902.6,3159.8"/></g>
<g fill="#fde725"><polygon points="2012.6,3774.4 2044.7,3795 2044.7,3204.4 2012.6,3183.8"/><polygon points="2044.7,3795 2090.4,3777.8 2090.4,3187.2 2044.7,3204.4"/><polygon points="2012.6,3183.8 2044.7,3204.4 2090.4,3187.2 2058.3,3166.7"/></g>
<g fill="#89d548"><polygon points="519.5,3747.2 551.7,3767.8 551.7,3225.9 519.5,3205.4"/><polygon points="551.7,3767.8 597.4,3750.7 597.4,3208.8 551.7,3225.9"/><polygon points="519.5,3205.4 551.7,3225.9 597.4,3208.8 565.3,3188.2"/></g>
<g fill="#b0dd2f"><polygon points="675.3,3754.1 707.4,3774.6 707.4,3217.1 675.3,3196.5"/><polygon points="707.4,3774.6 753.1,3757.5 753.1,3199.9 707.4,3217.1"/><polygon points="675.3,3196.5 707.4,3217.1 753.1,3199.9 721,3179.3"/></g>
<g fill="#c0df25"><polygon points="831,3760.9 863.1,3781.5 863.1,3217 831,3196.4"/><polygon points="863.1,3781.5 908.8,3764.3 908.8,3199.8 863.1,3217"/><polygon points="831,3196.4 863.1,3217 908.8,3199.8 876.7,3179.2"/></g>
<g fill="#eae51a"><polygon points="986.7,3767.7 1018.8,3788.3 1018.8,3207.3 986.7,3186.7"/><polygon points="1018.8,3788.3 1064.6,3771.2 1064.6,3190.1 1018.8,3207.3"/><polygon points="986.7,3186.7 1018.8,3207.3 1064.6,3190.1 1032.4,3169.6"/></g>
<g fill="#f4e61e"><polygon points="1142.4,3774.6 1174.6,3795.1 1174.6,3209.3 1142.4,3188.8"/><polygon points="1174.6,3795.1 1220.3,3778 1220.3,3192.2 1174.6,3209.3"/><polygon points="1142.4,3188.8 1174.6,3209.3 1220.3,3192.2 1188.2,3171.6"/></g>
<g fill="#f8e621"><polygon points="1298.2,3781.4 1330.3,3802 1330.3,3214 1298.2,3193.5"/><polygon points="1330.3,3802 1376,3784.8 1376,3196.9 1330.3,3214"/><polygon points="1298.2,3193.5 1330.3,3214 1376,3196.9 1343.9,3176.3"/></g>
<g fill="#fde725"><polygon points="1453.9,3788.2 1486,3808.8 1486,3218.2 1453.9,3197.6"/><polygon points="1486,3808.8 1531.8,3791.6 1531.8,3201 1486,3218.2"/><polygon points="1453.9,3197.6 1486,3218.2 1531.8,3201 1499.6,3180.5"/></g>
<g fill="#fde725"><polygon points="1609.6,3795.1 1641.8,3815.6 1641.8,3225 1609.6,3204.4"/><polygon points="1641.8,3815.6 1687.5,3798.5 1687.5,3207.9 1641.8,3225"/><polygon points="1609.6,3204.4 1641.8,3225 1687.5,3207.9 1655.4,3187.3"/></g>
<g fill="#fde725"><polygon points="1765.4,3801.9 1797.5,3822.5 1797.5,3231.8 1765.4,3211.3"/><polygon points="1797.5,3822.5 1843.2,3805.3 1843.2,3214.7 1797.5,3231.8"/><polygon points="1765.4,3211.3 1797.5,3231.8 1843.2,3214.7 1811.1,3194.1"/></g>
<g fill="#fde725"><polygon points="1921.1,3808.7 1953.2,3829.3 1953.2,3238.7 1921.1,3218.1"/><polygon points="1953.2,3829.3 1999,3812.1 1999,3221.5 1953.2,3238.7"/><polygon points="1921.1,3218.1 1953.2,3238.7 1999,3221.5 1966.8,3201"/></g>
<g fill="#440154"><polygon points="428.1,3781.5 460.2,3802.1 460.2,3486.8 428.1,3466.3"/><polygon points="460.2,3802.1 505.9,3785 505.9,3469.7 460.2,3486.8"/><polygon points="428.1,3466.3 460.2,3486.8 505.9,3469.7 473.8,3449.1"/></g>
<g fill="#8bd646"><polygon points="583.8,3788.4 615.9,3808.9 615.9,3266.5 583.8,3246"/><polygon points="615.9,3808.9 661.7,3791.8 661.7,3249.4 615.9,3266.5"/><polygon points="583.8,3246 615.9,3266.5 661.7,3249.4 629.5,3228.8"/></g>
<g fill="#b2dd2d"><polygon points="739.5,3795.2 771.7,3815.8 771.7,3256.9 739.5,3236.3"/><polygon points="771.7,3815.8 817.4,3798.6 817.4,3239.7 771.7,3256.9"/><polygon points="739.5,3236.3 771.7,3256.9 817.4,3239.7 785.3,3219.1"/></g>
<g fill="#b5de2b"><polygon points="895.3,3802 927.4,3822.6 927.4,3262.6 895.3,3242.1"/><polygon points="927.4,3822.6 973.1,3805.5 973.1,3245.5 927.4,3262.6"/><polygon points="895.3,3242.1 927.4,3262.6 973.1,3245.5 941,3224.9"/></g>
<g fill="#f1e51d"><polygon points="1051,3808.9 1083.1,3829.4 1083.1,3245.2 1051,3224.6"/><polygon points="1083.1,3829.4 1128.8,3812.3 1128.8,3228.1 1083.1,3245.2"/><polygon points="1051,3224.6 1083.1,3245.2 1128.8,3228.1 1096.7,3207.5"/></g>
<g fill="#f6e620"><polygon points="1206.7,3815.7 1238.8,3836.3 1238.8,3249.9 1206.7,3229.3"/><polygon points="1238.8,3836.3 1284.6,3819.1 1284.6,3232.8 1238.8,3249.9"/><polygon points="1206.7,3229.3 1238.8,3249.9 1284.6,3232.8 1252.4,3212.2"/></g>
<g fill="#f8e621"><polygon points="1362.4,3822.5 1394.6,3843.1 1394.6,3255.4 1362.4,3234.8"/><polygon points="1394.6,3843.1 1440.3,3825.9 1440.3,3238.3 1394.6,3255.4"/><polygon points="1362.4,3234.8 1394.6,3255.4 1440.3,3238.3 1408.2,3217.7"/></g>
<g fill="#fde725"><polygon points="1518.2,3829.4 1550.3,3849.9 1550.3,3259.3 1518.2,3238.7"/><polygon points="1550.3,3849.9 1596,3832.8 1596,3242.2 1550.3,3259.3"/><polygon points="1518.2,3238.7 1550.3,3259.3 1596,3242.2 1563.9,3221.6"/></g>
<g fill="#fde725"><polygon points="1673.9,3836.2 1706,3856.8 1706,3266.1 1673.9,3245.6"/><polygon points="1706,3856.8 1751.8,3839.6 1751.8,3249 1706,3266.1"/><polygon points="1673.9,3245.6 1706,3266.1 1751.8,3249 1719.6,3228.4"/></g>
<g fill="#fde725"><polygon points="1829.6,3843 1861.8,3863.6 1861.8,3273 1829.6,3252.4"/><polygon points="1861.8,3863.6 1907.5,3846.4 1907.5,3255.8 1861.8,3273"/><polygon points="1829.6,3252.4 1861.8,3273 1907.5,3255.8 1875.4,3235.3"/></g>
<g fill="#470d60"><polygon points="336.6,3815.8 368.7,3836.4 368.7,3512.1 336.6,3491.5"/><polygon points="368.7,3836.4 414.5,3819.3 414.5,3494.9 368.7,3512.1"/><polygon points="336.6,3491.5 368.7,3512.1 414.5,3494.9 382.3,3474.4"/></g>
<g fill="#440154"><polygon points="492.3,3822.7 524.5,3843.2 524.5,3528 492.3,3507.4"/><polygon points="524.5,3843.2 570.2,3826.1 570.2,3510.8 524.5,3528"/><polygon points="492.3,3507.4 524.5,3528 570.2,3510.8 538.1,3490.3"/></g>
<g fill="#8ed645"><polygon points="648.1,3829.5 680.2,3850.1 680.2,3306.6 648.1,3286"/><polygon points="680.2,3850.1 725.9,3832.9 725.9,3289.4 680.2,3306.6"/><polygon points="648.1,3286 680.2,3306.6 725.9,3289.4 693.8,3268.9"/></g>
<g fill="#a8db34"><polygon points="803.8,3836.3 835.9,3856.9 835.9,3302.2 803.8,3281.7"/><polygon points="835.9,3856.9 881.7,3839.8 881.7,3285.1 835.9,3302.2"/><polygon points="803.8,3281.7 835.9,3302.2 881.7,3285.1 849.5,3264.5"/></g>
<g fill="#bddf26"><polygon points="959.5,3843.2 991.7,3863.7 991.7,3300.6 959.5,3280"/><polygon points="991.7,3863.7 1037.4,3846.6 1037.4,3283.4 991.7,3300.6"/><polygon points="959.5,3280 991.7,3300.6 1037.4,3283.4 1005.3,3262.8"/></g>
<g fill="#efe51c"><polygon points="1115.3,3850 1147.4,3870.6 1147.4,3286.9 1115.3,3266.3"/><polygon points="1147.4,3870.6 1193.1,3853.4 1193.1,3269.7 1147.4,3286.9"/><polygon points="1115.3,3266.3 1147.4,3286.9 1193.1,3269.7 1161,3249.2"/></g>
<g fill="#f6e620"><polygon points="1271,3856.8 1303.1,3877.4 1303.1,3291 1271,3270.5"/><polygon points="1303.1,3877.4 1348.8,3860.2 1348.8,3273.9 1303.1,3291"/><polygon points="1271,3270.5 1303.1,3291 1348.8,3273.9 1316.7,3253.3"/></g>
<g fill="#f8e621"><polygon points="1426.7,3863.7 1458.8,3884.2 1458.8,3296 1426.7,3275.4"/><polygon points="1458.8,3884.2 1504.6,3867.1 1504.6,3278.9 1458.8,3296"/><polygon points="1426.7,3275.4 1458.8,3296 1504.6,3278.9 1472.4,3258.3"/></g>
<g fill="#fde725"><polygon points="1582.4,3870.5 1614.6,3891.1 1614.6,3300.4 1582.4,3279.9"/><polygon points="1614.6,3891.1 1660.3,3873.9 1660.3,3283.3 1614.6,3300.4"/><polygon points="1582.4,3279.9 1614.6,3300.4 1660.3,3283.3 1628.2,3262.7"/></g>
<g fill="#fde725"><polygon points="1738.2,3877.3 1770.3,3897.9 1770.3,3307.3 1738.2,3286.7"/><polygon points="1770.3,3897.9 1816,3880.7 1816,3290.1 1770.3,3307.3"/><polygon points="1738.2,3286.7 1770.3,3307.3 1816,3290.1 1783.9,3269.6"/></g>
</g>
<g stroke="#1c1c1c" stroke-width="2.5" fill="none" stroke-linecap="butt">
<polyline points="289.4,3119.6 289.4,3785.3 1060.6,4278.9 2203.9,3850.1"/>
<path d="M289.4 3785.3L273.4 3775.1M289.4 3758.7L281.4 3753.6M289.4 3732L281.4 3726.9M289.4 3705.4L281.4 3700.3M289.4 3678.8L281.4 3673.7M289.4 3652.2L273.4 3641.9M289.4 3625.5L281.4 3620.4M289.4 3598.9L281.4 3593.8M289.4 3572.3L281.4 3567.2M289.4 3545.6L281.4 3540.5M289.4 3519L273.4 3508.8M289.4 3492.4L281.4 3487.3M289.4 3465.8L281.4 3460.6M289.4 3439.1L281.4 3434M289.4 3412.5L281.4 3407.4M289.4 3385.9L273.4 3375.6M289.4 3359.3L281.4 3354.1M289.4 3332.6L281.4 3327.5M289.4 3306L281.4 3300.9M289.4 3279.4L281.4 3274.2M289.4 3252.7L273.4 3242.5M289.4 3226.1L281.4 3221M289.4 3199.5L281.4 3194.4M289.4 3172.9L281.4 3167.7M289.4 3146.2L281.4 3141.1M289.4 3119.6L273.4 3109.4M353.7 3826.4L335.9 3833.1M417.9 3867.6L400.1 3874.2M482.2 3908.7L464.4 3915.4M546.5 3949.8L528.7 3956.5M610.8 3991L593 3997.6M675 4032.1L657.2 4038.8M739.3 4073.2L721.5 4079.9M803.6 4114.3L785.8 4121M867.8 4155.5L850 4162.1M932.1 4196.6L914.3 4203.3M1083.5 4270.3L1099.5 4280.5M1175 4236L1191 4246.2M1266.4 4201.7L1282.4 4211.9M1357.9 4167.4L1373.9 4177.6M1449.3 4133.1L1465.3 4143.3M1540.8 4098.8L1556.8 4109M1632.3 4064.5L1648.3 4074.7M1723.7 4030.2L1739.7 4040.4M1815.2 3995.9L1831.2 4006.1M1906.6 3961.6L1922.6 3971.8M1998.1 3927.3L2014.1 3937.5M2089.6 3893L2105.6 3903.2M2181 3858.7L2197 3868.9"/>
</g>
<g font-family="'Liberation Serif', serif" font-size="48.5" fill="#262626">
<text transform="translate(260,3780.8) scale(1.03,1)" text-anchor="end">0.0000</text>
<text transform="translate(260,3647.7) scale(1.03,1)" text-anchor="end">0.1000</text>
<text transform="translate(260,3514.5) scale(1.03,1)" text-anchor="end">0.2000</text>
<text transform="translate(260,3381.4) scale(1.03,1)" text-anchor="end">0.0000</text>
<text transform="translate(260,3248.3) scale(1.03,1)" text-anchor="end">0.1000</text>
<text transform="translate(260,3115.1) scale(1.03,1)" text-anchor="end">0.2000</text>
<text transform="translate(320.1,3884.5) scale(1.03,1)" text-anchor="end">1</text>
<text transform="translate(384.4,3925.7) scale(1.03,1)" text-anchor="end">2</text>
<text transform="translate(448.6,3966.8) scale(1.03,1)" text-anchor="end">3</text>
<text transform="translate(512.9,4007.9) scale(1.03,1)" text-anchor="end">4</text>
<text transform="translate(577.2,4049) scale(1.03,1)" text-anchor="end">5</text>
<text transform="translate(641.4,4090.2) scale(1.03,1)" text-anchor="end">6</text>
<text transform="translate(705.7,4131.3) scale(1.03,1)" text-anchor="end">7</text>
<text transform="translate(770,4172.4) scale(1.03,1)" text-anchor="end">8</text>
<text transform="translate(834.3,4213.6) scale(1.03,1)" text-anchor="end">9</text>
<text transform="translate(898.5,4254.7) scale(1.03,1)" text-anchor="end">10</text>
<text transform="translate(1113.4,4330.9) scale(1.03,1)">1</text>
<text transform="translate(1204.8,4296.6) scale(1.03,1)">2</text>
<text transform="translate(1296.3,4262.3) scale(1.03,1)">3</text>
<text transform="translate(1387.7,4228) scale(1.03,1)">4</text>
<text transform="translate(1479.2,4193.7) scale(1.03,1)">5</text>
<text transform="translate(1570.7,4159.4) scale(1.03,1)">6</text>
<text transform="translate(1662.1,4125.1) scale(1.03,1)">7</text>
<text transform="translate(1753.6,4090.8) scale(1.03,1)">8</text>
<text transform="translate(1845,4056.5) scale(1.03,1)">9</text>
<text transform="translate(1936.5,4022.2) scale(1.03,1)">10</text>
<text transform="translate(2028,3987.9) scale(1.03,1)">11</text>
<text transform="translate(2119.4,3953.6) scale(1.03,1)">12</text>
<text transform="translate(2210.9,3919.3) scale(1.03,1)">13</text>
</g>
<text transform="translate(670.63,4291.2) scale(0.7326,0.7354)" font-family="'Liberation Serif', serif" font-size="100" fill="#333333" font-style="italic">M</text>
<text transform="translate(1477.99,4307.5) scale(0.7734,0.7308)" font-family="'Liberation Serif', serif" font-size="100" fill="#333333" font-style="italic">N</text>
<rect x="1696" y="4239.2" width="533.4" height="59" fill="url(#vir)" stroke="#262626" stroke-width="1.8"/>
<g font-family="'Liberation Serif', serif" font-size="43.2" fill="#262626" text-anchor="middle">
<text x="1704" y="4357.2">0.12</text>
<text x="1807.2" y="4357.2">0.14</text>
<text x="1910.4" y="4357.2">0.16</text>
<text x="2013.7" y="4357.2">0.18</text>
<text x="2116.9" y="4357.2">0.2</text>
<text x="2220.1" y="4357.2">0.22</text>
</g>
<path d="M1704 4298.2V4293.2M1807.2 4298.2V4293.2M1910.4 4298.2V4293.2M2013.7 4298.2V4293.2M2116.9 4298.2V4293.2M2220.1 4298.2V4293.2" stroke="#262626" stroke-width="1.5" fill="none"/>
<text transform="translate(1108.13,4519.4) scale(0.941,1)" font-family="'Liberation Serif', serif" font-size="86.7" fill="#000">(<tspan font-weight="bold">c</tspan>)</text>
</g>
<text transform="translate(148.75,425.76) rotate(-90) scale(0.6236,0.6516)" font-family="'Liberation Serif', serif" font-size="100" fill="#333333" font-style="italic">w</text>
<text transform="translate(168.97,1962.01) rotate(-90) scale(0.7374,0.5333)" font-family="'Liberation Serif', serif" font-size="100" fill="#333333" font-style="italic">σ</text>
<text transform="translate(179.6,1918.09) rotate(-90) scale(0.5056,0.4615)" font-family="'Liberation Serif', serif" font-size="100" fill="#333333" font-style="italic">xx</text>
<text transform="translate(80.05,3499.51) rotate(-90) scale(0.9250,0.6495)" font-family="'Liberation Serif', serif" font-size="100" fill="#333333" font-style="italic">τ</text>
<text transform="translate(91.6,3457.08) rotate(-90) scale(0.5193,0.4891)" font-family="'Liberation Serif', serif" font-size="100" fill="#333333" font-style="italic">xz</text>
<g stroke="#555" stroke-width="3.2" fill="none"><path d="M111 379V430"/><path d="M131.8 1920.6V1961.6"/><path d="M40.2 3460V3499.6"/></g>
</svg>
</body></html>
